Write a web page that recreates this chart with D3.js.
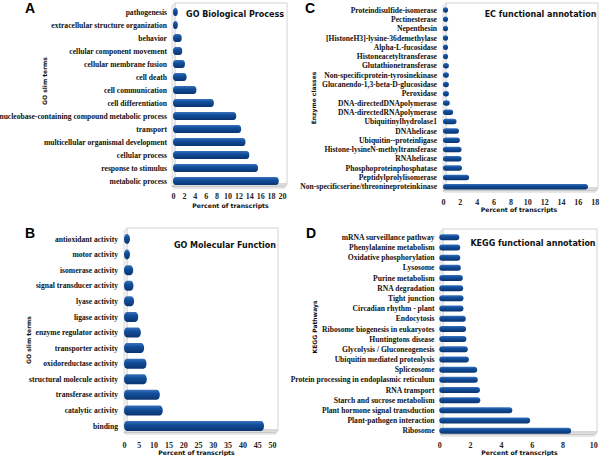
<!DOCTYPE html>
<html><head><meta charset="utf-8">
<script src="https://cdn.jsdelivr.net/npm/d3@7"></script>
<style>body{margin:0;background:#fff}svg{display:block}</style>
</head><body><svg id="c" width="600" height="456"></svg>
<script>
// ---- Data ----
const bpCategories = ["pathogenesis","extracellular structure organization","behavior","cellular component movement","cellular membrane fusion","cell death","cell communication","cell differentiation","nucleobase-containing compound metabolic process","transport","multicellular organismal development","cellular process","response to stimulus","metabolic process"];
const bpValues = [0.8,0.8,1.6,1.7,2.2,2.5,4.3,7.5,11.6,12.5,13.3,14.0,15.6,19.4];
const bpTicks = [0,2,4,6,8,10,12,14,16,18,20];

const mfCategories = ["antioxidant activity","motor activity","isomerase activity","signal transducer activity","lyase activity","ligase activity","enzyme regulator activity","transporter activity","oxidoreductase activity","structural molecule activity","transferase activity","catalytic activity","binding"];
const mfValues = [1.4,2.0,3.1,3.2,3.4,4.8,5.7,6.8,7.6,7.7,12.1,13.1,47.3];
const mfTicks = [0,5,10,15,20,25,30,35,40,45,50];

const ecCategories = ["Proteindisulfide-isomerase","Pectinesterase","Nepenthesin","[HistoneH3]-lysine-36demethylase","Alpha-L-fucosidase","Histoneacetyltransferase","Glutathionetransferase","Non-specificprotein-tyrosinekinase","Glucanendo-1,3-beta-D-glucosidase","Peroxidase","DNA-directedDNApolymerase","DNA-directedRNApolymerase","Ubiquitinylhydrolase1","DNAhelicase","Ubiquitin--proteinligase","Histone-lysineN-methyltransferase","RNAhelicase","Phosphoproteinphosphatase","Peptidylprolylisomerase","Non-specificserine/threonineproteinkinase"];
const ecValues = [0.6,0.6,0.6,0.6,0.6,0.6,0.7,0.7,0.7,0.7,0.8,1.2,1.6,1.9,2.0,2.2,2.2,2.25,3.1,17.2];
const ecTicks = [0,2,4,6,8,10,12,14,16,18];

const keggCategories = ["mRNA surveillance pathway","Phenylalanine metabolism","Oxidative phosphorylation","Lysosome","Purine metabolism","RNA degradation","Tight junction","Circadian rhythm - plant","Endocytosis","Ribosome biogenesis in eukaryotes","Huntingtons disease","Glycolysis / Gluconeogenesis","Ubiquitin mediated proteolysis","Spliceosome","Protein processing in endoplasmic reticulum","RNA transport","Starch and sucrose metabolism","Plant hormone signal transduction","Plant-pathogen interaction","Ribosome"];
const keggValues = [1.3,1.36,1.36,1.4,1.53,1.55,1.57,1.57,1.72,1.74,1.76,1.85,1.92,2.46,2.5,2.64,2.66,4.74,5.9,8.56];
const keggTicks = [0,2,4,6,8,10];

// ---- Panels ----
const panels = [
  {letter:"A", lx:25, ly:13, cats:bpCategories, vals:bpValues, ticks:bpTicks,
   xr:[173,282], yr:[12,181], barH:8, labelX:167,
   frame:{l:172,t:3,r:287,b:187}, title:"GO Biological Process", tx:235, ty:17,
   ytitle:"GO slim terms", ytx:45, yty:81, tickY:199, xtitleY:208, xtx:230.5},
  {letter:"B", lx:25, ly:238, cats:mfCategories, vals:mfValues, ticks:mfTicks,
   xr:[124,272], yr:[239,426], barH:10, labelX:118,
   frame:{l:124,t:228,r:278,b:433}, title:"GO Molecular Function", tx:225, ty:248,
   ytitle:"GO slim terms", ytx:29, yty:340, tickY:448, xtitleY:455, xtx:196.5},
  {letter:"C", lx:305, ly:13, cats:ecCategories, vals:ecValues, ticks:ecTicks,
   xr:[443,594.7], yr:[10,186.7], barH:5.5, labelX:437,
   frame:{l:443,t:3,r:598,b:191}, title:"EC functional annotation", tx:540.5, ty:17,
   ytitle:"Enzyme classes", ytx:314, yty:98, tickY:205, xtitleY:212, xtx:519},
  {letter:"D", lx:306, ly:238, cats:keggCategories, vals:keggValues, ticks:keggTicks,
   xr:[439.3,593.3], yr:[237.3,430.7], barH:6, labelX:434.5,
   frame:{l:440,t:229,r:597,b:435}, title:"KEGG functional annotation", tx:533, ty:246,
   ytitle:"KEGG Pathways", ytx:315, yty:327, tickY:448, xtitleY:455, xtx:519.5}
];

const svg = d3.select("#c");
const defs = svg.append("defs");
const g1 = defs.append("linearGradient").attr("id","barg").attr("x1",0).attr("y1",0).attr("x2",0).attr("y2",1);
g1.append("stop").attr("offset","0%").attr("stop-color","#3a73bd");
g1.append("stop").attr("offset","35%").attr("stop-color","#124f9c");
g1.append("stop").attr("offset","100%").attr("stop-color","#0a3470");
const g2 = defs.append("linearGradient").attr("id","floorg").attr("x1",0).attr("y1",0).attr("x2",0).attr("y2",1);
g2.append("stop").attr("offset","0%").attr("stop-color","#f2f2f2");
g2.append("stop").attr("offset","100%").attr("stop-color","#c8c8c8");

const serif = "'Liberation Serif','Times New Roman',serif";
const sans = "'DejaVu Sans',sans-serif";

panels.forEach(p => {
  const g = svg.append("g");
  const x = d3.scaleLinear().domain([0, p.ticks[p.ticks.length-1]]).range(p.xr);
  const y = d3.scalePoint().domain(p.cats).range(p.yr);
  const f = p.frame, d = 3;
  // back wall
  g.append("rect").attr("x", f.l + d).attr("y", f.t).attr("width", f.r - f.l - d).attr("height", f.b - f.t - d)
    .attr("fill", "#fff").attr("stroke", "#d4d4d4").attr("stroke-width", 1);
  // left wall
  g.append("path").attr("d", `M${f.l},${f.t+d}L${f.l+d},${f.t}L${f.l+d},${f.b-d}L${f.l},${f.b}Z`)
    .attr("fill", "#f4f4f4").attr("stroke", "#d4d4d4").attr("stroke-width", 0.8);
  // floor
  g.append("path").attr("d", `M${f.l},${f.b}L${f.l+d},${f.b-d}L${f.r},${f.b-d}L${f.r-d},${f.b}Z`)
    .attr("fill", "url(#floorg)").attr("stroke", "#bdbdbd").attr("stroke-width", 0.8);
  g.append("path").attr("d", `M${f.l+1},${f.b+1}L${f.r-d},${f.b+1}L${f.r},${f.b-d+1}`)
    .attr("fill", "none").attr("stroke", "#e2e2e2").attr("stroke-width", 1.5);

  // bars
  g.selectAll("rect.bar").data(p.cats).join("rect").attr("class","bar")
    .attr("x", x(0))
    .attr("y", c => y(c) - p.barH/2)
    .attr("width", (c,i) => Math.max(x(p.vals[i]) - x(0), p.barH*0.6))
    .attr("height", p.barH)
    .attr("rx", Math.min(3, p.barH/2)).attr("ry", p.barH/2)
    .attr("fill", "url(#barg)");

  // category labels
  g.selectAll("text.cat").data(p.cats).join("text").attr("class","cat")
    .attr("x", p.labelX).attr("y", c => y(c)).attr("dy", "0.35em")
    .attr("text-anchor", "end").attr("font-family", serif).attr("font-weight", "bold")
    .attr("font-size", 7.6).attr("fill", "#111").text(c => c);

  // x axis via d3.axisBottom (ticks only labels)
  const ax = g.append("g").attr("transform", `translate(0,${p.tickY - 6})`)
    .call(d3.axisBottom(x).tickValues(p.ticks).tickSize(0).tickPadding(0).tickFormat(d3.format("d")));
  ax.select(".domain").remove();
  ax.selectAll("text").attr("font-family", serif).attr("font-weight", "bold").attr("font-size", 8)
    .attr("fill", "#222").attr("dy", "0.71em");

  // x title
  g.append("text").attr("x", p.xtx).attr("y", p.xtitleY).attr("text-anchor", "middle")
    .attr("font-family", sans).attr("font-weight", "bold").attr("font-size", 6.2).attr("fill", "#111")
    .text("Percent of transcripts");
  // y title
  g.append("text").attr("transform", `translate(${p.ytx},${p.yty}) rotate(-90)`).attr("text-anchor", "middle")
    .attr("dy", "0.35em").attr("font-family", sans).attr("font-weight", "bold").attr("font-size", 6)
    .attr("fill", "#111").text(p.ytitle);
  // chart title
  g.append("text").attr("x", p.tx).attr("y", p.ty).attr("text-anchor", "middle")
    .attr("font-family", sans).attr("font-weight", "bold").attr("font-size", 8).attr("fill", "#111")
    .text(p.title);
  // panel letter
  g.append("text").attr("x", p.lx).attr("y", p.ly).attr("font-family", "'Liberation Sans',Arial,sans-serif")
    .attr("font-weight", "bold").attr("font-size", 14).attr("fill", "#000").text(p.letter);
});
</script></body></html>
